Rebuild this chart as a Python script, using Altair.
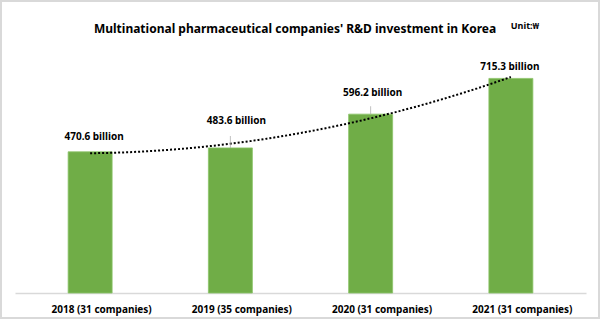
import altair as alt
import pandas as pd

# ---- data ----
years = [2018, 2019, 2020, 2021]
companies = [31, 35, 31, 31]
values = [470.6, 483.6, 596.2, 715.3]
label_texts = ["470.6 billion", "483.6 billion", "596.2 billion", "715.3 billion"]

# ---- label styling (pixel offsets, not data) ----
label_dy = [-15, -27, -21, -11]
label_dx = [4, 6, 2, -1]
leader_len = [0, 12, 8, 0]

W, H = 571, 240
PAD = {"left": 15, "top": 53, "right": 14, "bottom": 35}
FONT = "Noto Sans"
GREEN = "#70AD47"

df = pd.DataFrame({
    "year": years,
    "companies": companies,
    "value": values,
    "label": label_texts,
})

cat_labels = [f"{y} ({c} companies)" for y, c in zip(years, companies)]
label_expr = " : ".join(
    f"datum.value == {y} ? '{t}'" for y, t in zip(years, cat_labels)
) + " : ''"

x_scale = alt.Scale(domain=[2017.5, 2021.5], nice=False, zero=False)
y_scale = alt.Scale(domain=[0, 800], nice=False)

x_enc = alt.X(
    "year:Q",
    scale=x_scale,
    axis=alt.Axis(
        values=years,
        labelExpr=label_expr,
        title=None,
        ticks=False,
        grid=False,
        domainColor="#d9d9d9",
        domainWidth=1.5,
        labelFont=FONT,
        labelFontWeight="bold",
        labelFontSize=10,
        labelColor="#000000",
        labelPadding=11,
        labelOffset=11,
    ),
)
y_enc = alt.Y("value:Q", scale=y_scale, axis=None)
xq = alt.X("year:Q", scale=x_scale)
yq = alt.Y("value:Q", scale=y_scale)

base = alt.Chart(df)

bars = base.mark_bar(size=44, color=GREEN, stroke="#8cc46a", strokeWidth=0.8).encode(
    x=x_enc, y=y_enc
)

trend = base.transform_regression(
    "year", "value", method="poly", order=2, extent=[2018, 2021]
).mark_line(color="#000000", strokeWidth=2, strokeDash=[2, 2]).encode(x=xq, y=yq)

layers = []
for yr, dy, dx, lead in zip(years, label_dy, label_dx, leader_len):
    sub = base.transform_filter(f"datum.year == {yr}")
    if lead > 0:
        layers.append(
            sub.mark_tick(
                orient="vertical", color="#a6a6a6", thickness=1,
                size=lead, yOffset=-lead / 2,
            ).encode(x=xq, y=yq)
        )
    layers.append(
        sub.mark_text(
            font=FONT, fontWeight="bold", fontSize=10, color="#000000",
            baseline="middle", dy=dy, dx=dx,
        ).encode(x=xq, y=yq, text="label:N")
    )

one = pd.DataFrame({"k": [0]})

frame = alt.Chart(one).mark_rect(fill=None, stroke="#d9d9d9", strokeWidth=2).encode(
    x=alt.value(-PAD["left"] + 1),
    x2=alt.value(W + PAD["right"] - 1),
    y=alt.value(-PAD["top"] + 1),
    y2=alt.value(H + 25),
)

title = alt.Chart(one).mark_text(
    text="Multinational pharmaceutical companies' R&D investment in Korea",
    font=FONT, fontWeight="bold", fontSize=12, color="#000000",
    align="center", baseline="middle",
).encode(x=alt.value(295 - PAD["left"]), y=alt.value(29 - PAD["top"]))

unit = alt.Chart(one).mark_text(
    text="Unit:₩",
    font=FONT, fontWeight="bold", fontSize=9, color="#000000",
    align="center", baseline="middle",
).encode(x=alt.value(525 - PAD["left"]), y=alt.value(26 - PAD["top"]))

chart = alt.layer(frame, bars, trend, *layers, title, unit).properties(
    width=W,
    height=H,
    padding=PAD,
    autosize=alt.AutoSizeParams(type="none"),
    background="white",
).configure_view(stroke=None)

chart.save("out.html", embed_options={"renderer": "svg", "actions": False})
